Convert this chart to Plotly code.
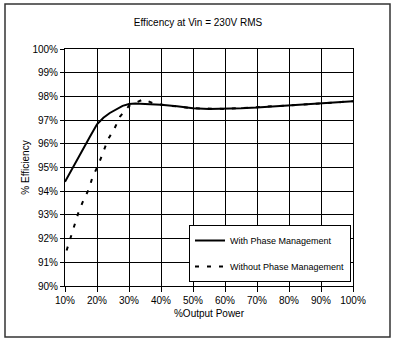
import plotly.graph_objects as go

# Efficiency curves at Vin = 230 V RMS
power_with = [10, 12, 14, 16, 18, 20, 22, 24, 26, 28, 30, 32, 35, 40, 45, 50,
              55, 60, 65, 70, 75, 80, 85, 90, 95, 100]
eff_with = [94.4, 94.9, 95.4, 95.85, 96.35, 96.82, 97.1, 97.3, 97.45, 97.6,
            97.68, 97.7, 97.68, 97.65, 97.58, 97.5, 97.47, 97.47, 97.5, 97.53,
            97.57, 97.62, 97.66, 97.7, 97.76, 97.8]

power_without = [10.5, 11.6, 13.1, 14.2, 15.7, 17.5, 18.6, 20.4, 21.8, 23.5,
                 25.3, 27.2, 30, 34.5, 38, 45, 50, 60, 70, 80, 90, 100]
eff_without = [91.5, 92.0, 92.6, 93.1, 93.6, 94.1, 94.6, 95.1, 95.6, 96.2,
               96.6, 97.15, 97.6, 97.88, 97.68, 97.58, 97.5, 97.47, 97.53,
               97.62, 97.7, 97.8]

x_ticks = [10, 20, 30, 40, 50, 60, 70, 80, 90, 100]
x_labels = ["10%", "20%", "30%", "40%", "50%", "60%", "70%", "80%", "90%", "100%"]
y_ticks = [90, 91, 92, 93, 94, 95, 96, 97, 98, 99, 100]
y_labels = ["90%", "91%", "92%", "93%", "94%", "95%", "96%", "97%", "98%", "99%", "100%"]

FONT = "Liberation Sans, Arial, sans-serif"

fig = go.Figure()
fig.add_trace(go.Scatter(
    x=power_without, y=eff_without, mode="lines",
    name="Without Phase Management", legendgroup="b", legendrank=2,
    line=dict(color="black", width=2, dash="4px,8px"),
))
fig.add_trace(go.Scatter(
    x=power_with, y=eff_with, mode="lines",
    name="With Phase Management", legendgroup="a", legendrank=1,
    line=dict(color="black", width=2),
))

L, R, T, B = 65, 43, 49, 56
W, H = 396, 342
pw, ph = W - L - R, H - T - B

fig.update_layout(
    width=W, height=H,
    margin=dict(l=L, r=R, t=T, b=B),
    paper_bgcolor="white", plot_bgcolor="white",
    font=dict(family=FONT, size=10, color="black"),
    title=dict(text="Efficency at Vin = 230V RMS", x=0.5, xanchor="center",
               xref="container", y=1 - 22 / H, yref="container", yanchor="middle",
               font=dict(size=10)),
    legend=dict(
        x=(189 - L) / pw, y=(H - B - 225) / ph, xanchor="left", yanchor="top",
        bgcolor="white", bordercolor="black", borderwidth=1,
        font=dict(size=9), tracegroupgap=7, traceorder="grouped",
        entrywidth=123,
    ),
    xaxis=dict(
        range=[10, 100], tickvals=x_ticks, ticktext=x_labels,
        showgrid=True, gridcolor="#000", gridwidth=1,
        showline=True, linecolor="#000", linewidth=1, mirror=True,
        ticks="outside", ticklen=5, tickcolor="#000",
        title=dict(text="%Output Power", standoff=4, font=dict(size=10)),
        zeroline=False, fixedrange=True,
    ),
    yaxis=dict(
        range=[90, 100], tickvals=y_ticks, ticktext=y_labels,
        showgrid=True, gridcolor="#000", gridwidth=1,
        showline=True, linecolor="#000", linewidth=1, mirror=True,
        ticks="outside", ticklen=4, tickcolor="#000",
        title=dict(text="% Efficiency", standoff=0, font=dict(size=10)),
        zeroline=False, fixedrange=True,
    ),
)

# Outer frame around the whole chart
fig.add_shape(type="rect", xref="paper", yref="paper",
              x0=(5 - L) / pw, x1=(390 - L) / pw,
              y0=(H - B - 337) / ph, y1=(H - B - 4) / ph,
              line=dict(color="#333", width=1.5), layer="below")

fig.write_html("out.html")
